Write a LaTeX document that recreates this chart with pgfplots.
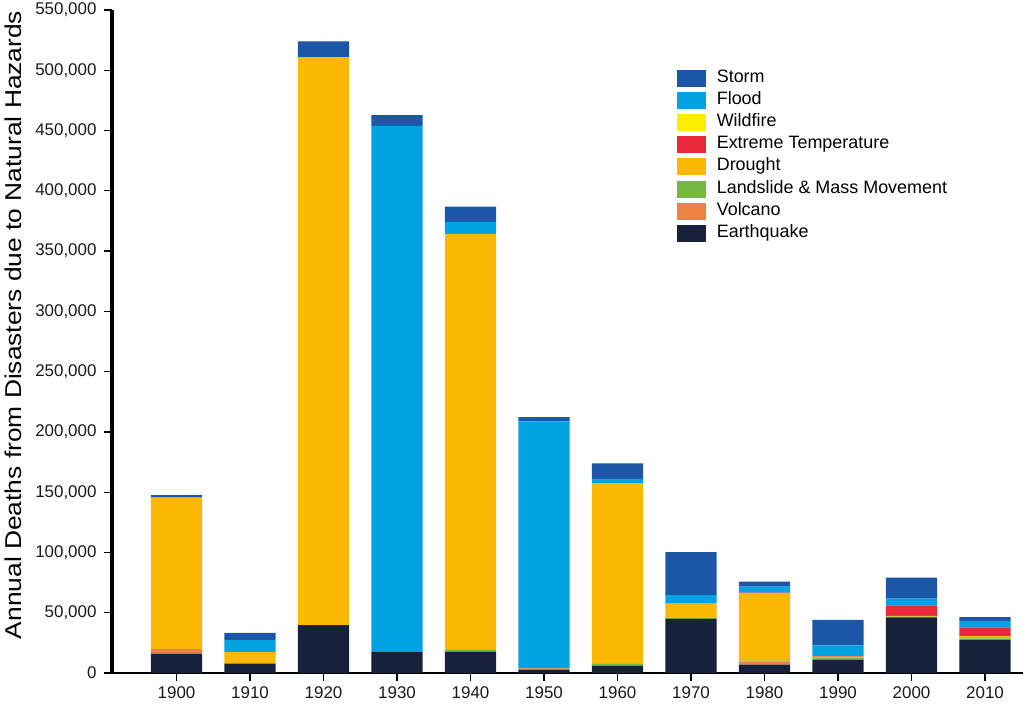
\documentclass[border=0pt]{standalone}
\usepackage{fontspec}
\setmainfont{Liberation Sans}
\usepackage{graphicx}
\usepackage{pgfplots}
\usepackage{pgfplotstable}
\pgfplotsset{compat=1.18}
\definecolor{cStorm}{HTML}{1C56A6}
\definecolor{cFlood}{HTML}{00A2E2}
\definecolor{cWild}{HTML}{FFED00}
\definecolor{cTemp}{HTML}{E8293A}
\definecolor{cDrought}{HTML}{FAB900}
\definecolor{cLand}{HTML}{74B843}
\definecolor{cVolc}{HTML}{EE8243}
\definecolor{cQuake}{HTML}{17213C}
\pgfplotstableread{
x  quake  volc  land  drought  temp  wild  flood  storm
0  16000  4000  0     125500   0     0     500    1500
1  7700   800   0     9000     0     0     10000  5800
2  39800  0     0     471200   0     0     0      13000
3  17400  0     0     0        0     0     436400 9000
4  17700  0     2000  344500   0     0     10000  12600
5  2800   1000  0     0        0     0     205000 3500
6  6000   0     1500  150000   0     0     3500   13000
7  45000  0     1000  11600    0     0     7200   35400
8  6900   2500  800   56000    500   0     5000   4100
9  11000  500   1000  1000     500   0     9000   21000
10 46200  0     500   600      8800  0     5600   17400
11 27600  0     1100  2000     7200  200   5200   3100
}\data
\begin{document}
\begin{tikzpicture}
\begin{axis}[
  scale only axis,
  width=911bp, height=663bp,
  xmin=-0.878, xmax=11.517,
  ymin=0, ymax=550000,
  ybar stacked,
  bar width=51.4bp,
  axis x line=bottom, axis y line=left,
  x axis line style={-, line width=2.5bp},
  y axis line style={-, line width=3.5bp},
  xtick={0,...,11},
  xticklabels={1900,1910,1920,1930,1940,1950,1960,1970,1980,1990,2000,2010},
  ytick={0,50000,...,550000},
  scaled y ticks=false,
  yticklabel style={/pgf/number format/fixed, /pgf/number format/1000 sep={,}, xshift=-4bp},
  xticklabel style={yshift=-2bp},
  /pgf/number format/assume math mode=true,
  tick label style={font=\fontsize{17}{17}\selectfont, text=black!90},
  tick align=outside,
  major tick length=8bp,
  tick style={line width=1.2bp, black},
  xtick pos=bottom, ytick pos=left,
  ylabel={\scalebox{1.15}[1]{Annual Deaths from Disasters due to Natural Hazards}},
  ylabel style={at={(axis description cs:-0.1087,0.525)}, anchor=center, font=\fontsize{23}{23}\selectfont},
  legend image code/.code={\fill[#1,draw=none] (0bp,-8.5bp) rectangle (29bp,8.5bp);},
  reverse legend,
  legend cell align=left,
  legend style={draw=none, fill=none, at={(axis description cs:0.620,0.914)}, anchor=north west,
    yshift=-3bp,
    inner sep=0pt, outer sep=0pt, row sep=5.1bp,
    font=\fontsize{18}{18}\selectfont,
    nodes={inner sep=0pt, text height=12.5bp, text depth=4.5bp},
    /tikz/every odd column/.append style={column sep=11bp}},
]
\addplot[fill=cQuake, draw=none] table[x=x, y=quake] {\data};
\addplot[fill=cVolc, draw=none] table[x=x, y=volc] {\data};
\addplot[fill=cLand, draw=none] table[x=x, y=land] {\data};
\addplot[fill=cDrought, draw=none] table[x=x, y=drought] {\data};
\addplot[fill=cTemp, draw=none] table[x=x, y=temp] {\data};
\addplot[fill=cWild, draw=none] table[x=x, y=wild] {\data};
\addplot[fill=cFlood, draw=none] table[x=x, y=flood] {\data};
\addplot[fill=cStorm, draw=none] table[x=x, y=storm] {\data};
\legend{Earthquake, Volcano, Landslide \& Mass Movement, Drought, Extreme Temperature, Wildfire, Flood, Storm}
\end{axis}
\pgfresetboundingbox
\useasboundingbox (-112bp,-33bp) rectangle (911bp,673bp);
\end{tikzpicture}
\end{document}
